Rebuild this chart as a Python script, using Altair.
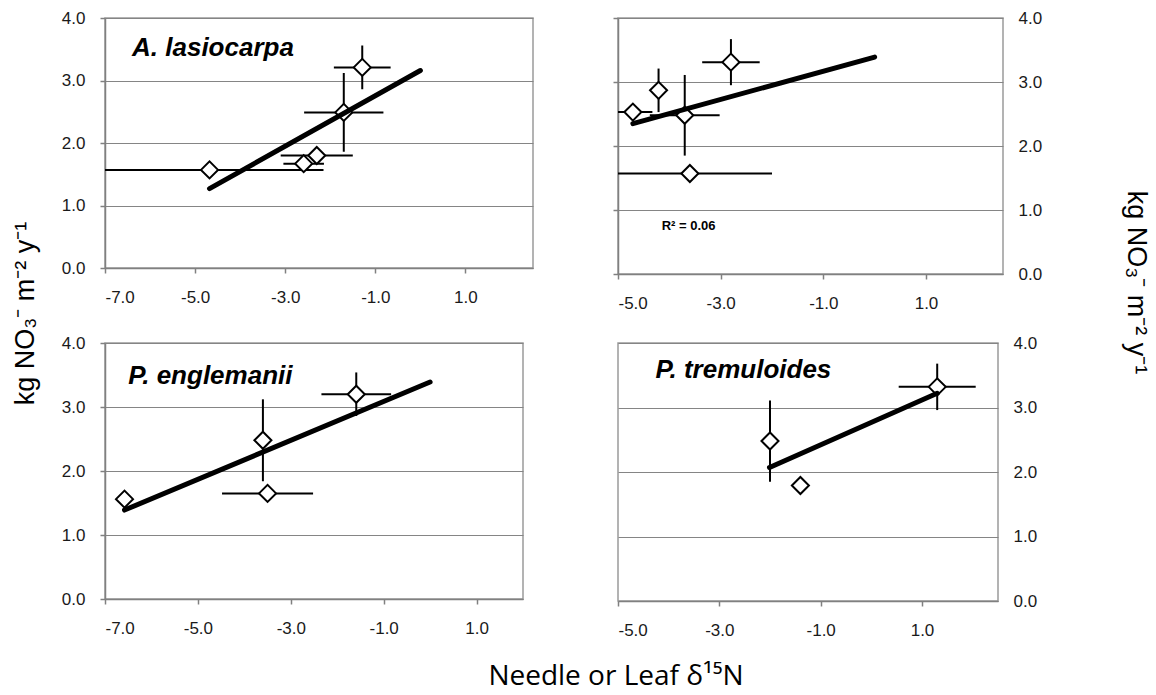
import altair as alt
import pandas as pd

# ---------------- data ----------------
# A. lasiocarpa (top-left)
a_x = [-4.68, -2.59, -2.30, -1.70, -1.29]
a_y = [1.57, 1.67, 1.80, 2.49, 3.21]
a_xerr = [2.53, 0.45, 0.80, 0.88, 0.63]
a_yerr = [0.0, 0.0, 0.0, 0.63, 0.35]
a_trend_x = [-4.68, 0.0]
a_trend_y = [1.27, 3.16]

# unnamed panel (top-right)
b_x = [-4.71, -4.21, -3.70, -2.80, -3.60]
b_y = [2.53, 2.87, 2.48, 3.31, 1.57]
b_xerr = [0.38, 0.0, 0.68, 0.56, 1.60]
b_yerr = [0.0, 0.34, 0.63, 0.36, 0.0]
b_trend_x = [-4.71, 0.0]
b_trend_y = [2.35, 3.39]

# P. englemanii (bottom-left)
c_x = [-6.58, -3.60, -3.50, -1.59]
c_y = [1.56, 2.48, 1.65, 3.20]
c_xerr = [0.0, 0.0, 0.98, 0.75]
c_yerr = [0.0, 0.64, 0.0, 0.34]
c_trend_x = [-6.58, 0.0]
c_trend_y = [1.39, 3.39]

# P. tremuloides (bottom-right)
d_x = [-2.00, -1.40, 1.30]
d_y = [2.48, 1.79, 3.32]
d_xerr = [0.0, 0.0, 0.76]
d_yerr = [0.63, 0.0, 0.36]
d_trend_x = [-2.01, 1.30]
d_trend_y = [2.07, 3.22]

y_ticks = [0, 1, 2, 3, 4]
x_ticks_left = [-7, -5, -3, -1, 1]
x_ticks_right = [-5, -3, -1, 1]

y_title = "kg NO\u2083\u207b m\u207b\u00b2 y\u207b\u00b9"
x_title = "Needle or Leaf \u03b4\u00b9\u2075N"
r2_text = "R\u00b2 = 0.06"

FONT = "Liberation Sans"
GRID = "#858585"
AXC = "#808080"
LBL = "replace(format(datum.value, '.1f'), '\u2212', '-')"


def x_axis(ticks):
    return alt.Axis(values=ticks, labelExpr=LBL, title=None, grid=False,
                    domain=True, domainColor=AXC, domainWidth=1.5,
                    ticks=True, tickSize=5, tickColor=AXC, tickWidth=1.5,
                    labelPadding=16, labelFontSize=17, labelFont=FONT,
                    labelColor="#1a1a1a")


def y_axis_left(labels=True, title=None, title_x=None, title_y=None):
    kw = dict(values=y_ticks, labelExpr=LBL, grid=True, gridColor=GRID,
              gridWidth=1, domain=True, domainColor=AXC, domainWidth=1.5,
              ticks=True, tickSize=5, tickColor=AXC, tickWidth=1.5,
              labels=labels, labelPadding=15, labelFontSize=17,
              labelFont=FONT, labelColor="#1a1a1a", orient="left")
    if title:
        kw.update(title=title, titleX=title_x, titleY=title_y, titleAngle=270,
                  titleBaseline="middle", titleAlign="center",
                  titleFont=FONT, titleFontSize=27, titleFontWeight="normal",
                  titleColor="#000000")
    else:
        kw.update(title=None)
    return alt.Axis(**kw)


def y_axis_right(grid, title=None, title_x=None, title_y=None):
    kw = dict(values=y_ticks, labelExpr=LBL, grid=grid, gridColor=GRID,
              gridWidth=1, domain=False, ticks=False, labels=True,
              labelPadding=15, labelFontSize=17, labelFont=FONT,
              labelColor="#1a1a1a", orient="right")
    if title:
        kw.update(title=title, titleX=title_x, titleY=title_y, titleAngle=90,
                  titleBaseline="middle", titleAlign="center",
                  titleFont=FONT, titleFontSize=27, titleFontWeight="normal",
                  titleColor="#000000")
    else:
        kw.update(title=None)
    return alt.Axis(**kw)


def panel(xs, ys, xerr, yerr, tx, ty, xdom, xticks, w, h, yaxis,
          label=None, label_xy=None, extra_text=None, extra_axis=None):
    xsc = alt.Scale(domain=xdom, nice=False, zero=False)
    ysc = alt.Scale(domain=[0, 4], nice=False, zero=False)
    xa = x_axis(xticks)
    pts = pd.DataFrame({"x": xs, "y": ys, "xerr": xerr, "yerr": yerr})
    pts["xlo"] = pts.x - pts.xerr
    pts["xhi"] = pts.x + pts.xerr
    pts["ylo"] = pts.y - pts.yerr
    pts["yhi"] = pts.y + pts.yerr
    xe = pts[pts.xerr > 0]
    ye = pts[pts.yerr > 0]
    tr = pd.DataFrame({"x": tx, "y": ty})

    layers = []
    if len(xe):
        layers.append(alt.Chart(xe).mark_rule(color="black", strokeWidth=2, clip=True).encode(
            x=alt.X("xlo:Q", scale=xsc, axis=xa), x2="xhi:Q",
            y=alt.Y("y:Q", scale=ysc, axis=yaxis)))
    if len(ye):
        layers.append(alt.Chart(ye).mark_rule(color="black", strokeWidth=2, clip=True).encode(
            x=alt.X("x:Q", scale=xsc, axis=xa),
            y=alt.Y("ylo:Q", scale=ysc, axis=yaxis), y2="yhi:Q"))
    layers.append(alt.Chart(pts).mark_point(shape="diamond", size=290, filled=True,
                                             fill="white", stroke="black",
                                             strokeWidth=2, opacity=1).encode(
        x=alt.X("x:Q", scale=xsc, axis=xa),
        y=alt.Y("y:Q", scale=ysc, axis=yaxis)))
    layers.append(alt.Chart(tr).mark_line(color="black", strokeWidth=5,
                                           strokeCap="round").encode(
        x=alt.X("x:Q", scale=xsc, axis=xa),
        y=alt.Y("y:Q", scale=ysc, axis=yaxis)))
    if label:
        ldf = pd.DataFrame({"x": [label_xy[0]], "y": [label_xy[1]], "t": [label]})
        layers.append(alt.Chart(ldf).mark_text(align="left", baseline="alphabetic",
                                                font=FONT, fontSize=26,
                                                fontWeight="bold", fontStyle="italic",
                                                color="black").encode(
            x=alt.X("x:Q", scale=xsc, axis=xa),
            y=alt.Y("y:Q", scale=ysc, axis=yaxis), text="t:N"))
    inner = alt.layer(*layers).properties(width=w, height=h)
    if extra_text is not None:
        t, tx0, ty0 = extra_text
        edf = pd.DataFrame({"x": [tx0], "y": [ty0], "t": [t]})
        et = alt.Chart(edf).mark_text(align="left", baseline="middle", font=FONT,
                                      fontSize=13, fontWeight="bold",
                                      color="black").encode(
            x=alt.X("x:Q", scale=xsc, axis=xa),
            y=alt.Y("y:Q", scale=ysc, axis=extra_axis), text="t:N")
        return alt.layer(inner, et).resolve_axis(y="independent").properties(width=w, height=h)
    return inner


tl = panel(a_x, a_y, a_xerr, a_yerr, a_trend_x, a_trend_y, [-7, 2.5], x_ticks_left,
           428, 250,
           y_axis_left(title=y_title, title_x=-80, title_y=295),
           label="A. lasiocarpa", label_xy=(-6.4, 3.39))

tr = panel(b_x, b_y, b_xerr, b_yerr, b_trend_x, b_trend_y, [-5, 2.5], x_ticks_right,
           385, 256,
           y_axis_left(labels=False),
           extra_text=(r2_text, -4.15, 0.75),
           extra_axis=y_axis_right(grid=False, title=y_title, title_x=132, title_y=264))

bl = panel(c_x, c_y, c_xerr, c_yerr, c_trend_x, c_trend_y, [-7, 2], x_ticks_left,
           418, 256,
           y_axis_left(),
           label="P. englemanii", label_xy=(-6.5, 3.36))

br = panel(d_x, d_y, d_xerr, d_yerr, d_trend_x, d_trend_y, [-5, 2.5], x_ticks_right,
           380, 258,
           y_axis_right(grid=True),
           label="P. tremuloides", label_xy=(-4.26, 3.46))

chart = alt.concat(tl, tr, bl, br, columns=2, bounds="flush", align="each",
                   spacing={"row": 69, "column": 85}).properties(
    title=alt.TitleParams(x_title, orient="bottom", anchor="middle", font="Open Sans",
                          fontSize=28, fontWeight="normal", color="#000000",
                          offset=24, dx=36),
    padding={"left": 10, "top": 8, "right": 5, "bottom": 2},
    background="white",
).configure_view(stroke="#9a9a9a", strokeWidth=1.5)

chart.save("out.html", embed_options={"renderer": "svg", "actions": False})
